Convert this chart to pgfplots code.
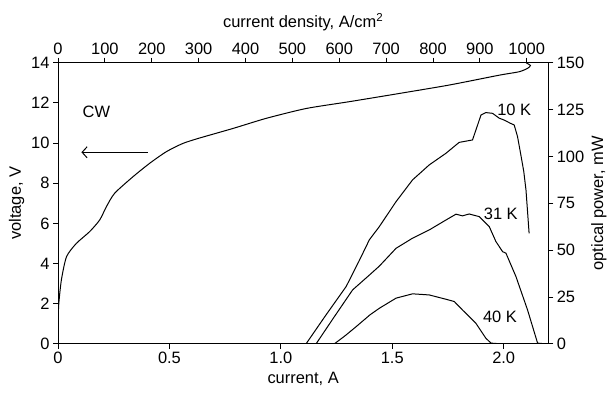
\documentclass[border=0pt]{standalone}
\usepackage{fontspec}
\setmainfont{Liberation Sans}
\usepackage{pgfplots}
\pgfplotsset{compat=1.18}
\usetikzlibrary{arrows.meta}
\pgfplotsset{
  common/.style={
    scale only axis, width=490bp, height=281bp,
    tick align=outside, major tick length=5bp,
    axis line style={line width=0.9bp}, tick style={line width=0.8bp, black},
    font=\fontsize{16.5}{19}\selectfont,
    /pgf/number format/assume math mode=true,
    /pgf/number format/set thousands separator={},
    every tick label/.style={font=\fontsize{16.5}{19}\selectfont},
  }
}
\begin{document}
\begin{tikzpicture}
\begin{axis}[common, name=main,
  xmin=0, xmax=2.2, ymin=0, ymax=14,
  axis x line*=bottom, axis y line*=left,
  xtick={0,0.5,1,1.5,2}, xticklabels={0,0.5,1.0,1.5,2.0},
  ytick={0,2,...,14},
  xlabel={current, A}, ylabel={voltage, V},
  xlabel style={yshift=-1bp},
]
\addplot[black, line width=1bp, smooth, tension=0.4] coordinates {
(0,0)(0.001,1.0)(0.003,1.94)(0.015,3.18)(0.038,4.34)(0.082,5.0)(0.142,5.59)
(0.187,6.17)(0.217,6.83)(0.254,7.5)(0.336,8.32)(0.411,8.99)(0.486,9.57)
(0.56,9.98)(0.635,10.25)(0.786,10.73)(0.934,11.23)(1.113,11.72)(1.307,12.06)
(1.532,12.47)(1.756,12.89)(1.98,13.38)(2.069,13.55)(2.107,13.72)(2.12,13.86)(2.10,14.0)
};
\draw[-{Straight Barb[length=5bp,width=11bp]}, line width=1bp] (axis cs:0.403,9.54) -- (axis cs:0.105,9.54);
\node at (axis cs:0.172,11.56) {CW};
\end{axis}
\begin{axis}[common,
  xmin=0, xmax=2.2, ymin=0, ymax=150,
  axis x line=none, axis y line*=right,
  ytick={0,25,...,150},
  ylabel={optical power, mW},
]
\addplot[black, line width=1bp] coordinates {
(1.07,0)(1.113,0)(1.20,15)(1.293,30.6)(1.35,44)(1.397,55.5)(1.442,62.6)(1.517,75.9)
(1.591,87.5)(1.666,95.5)(1.741,101.7)(1.80,107.5)(1.86,108.8)(1.883,116.8)(1.898,122.1)
(1.92,123.4)(1.95,123)(1.98,120.4)(2.0,119.5)(2.03,117.7)(2.047,116.8)(2.062,110.6)
(2.077,100.8)(2.09,92)(2.1,82.1)(2.114,59)
};
\addplot[black, line width=1bp] coordinates {
(1.09,0)(1.158,0)(1.24,14.5)(1.322,28.8)(1.40,37)(1.442,41.5)(1.517,51)(1.591,56.4)
(1.666,60.8)(1.741,66.1)(1.786,69.2)(1.815,68.3)(1.845,69.3)(1.89,67.9)(1.935,62.6)
(1.965,54.6)(1.995,49.2)(2.01,48.4)(2.055,35.9)(2.107,18.1)(2.152,0.4)(2.19,0)
};
\addplot[black, line width=1bp] coordinates {
(1.12,0)(1.24,0)(1.29,4.5)(1.338,9.2)(1.40,15.5)(1.442,19)(1.517,24.4)(1.591,26.7)
(1.666,26.1)(1.741,23.8)(1.778,22.6)(1.815,18.1)(1.875,11)(1.92,3)(1.943,0.4)(1.99,0)
};
\node at (axis cs:2.047,124.8) {10 K};
\node at (axis cs:1.987,69.3) {31 K};
\node at (axis cs:1.983,14.2) {40 K};
\end{axis}
\begin{axis}[common,
  xmin=0, xmax=1046, ymin=0, ymax=1,
  axis x line*=top, axis y line=none,
  xtick={0,100,...,1000},
  xlabel={current density, A/cm\textsuperscript{2}},
  xlabel style={yshift=5bp},
]
\end{axis}
\pgfresetboundingbox
\path[use as bounding box] ([xshift=-58bp,yshift=-50bp]main.south west) rectangle ([xshift=64.7bp,yshift=62.7bp]main.north east);
\end{tikzpicture}
\end{document}
